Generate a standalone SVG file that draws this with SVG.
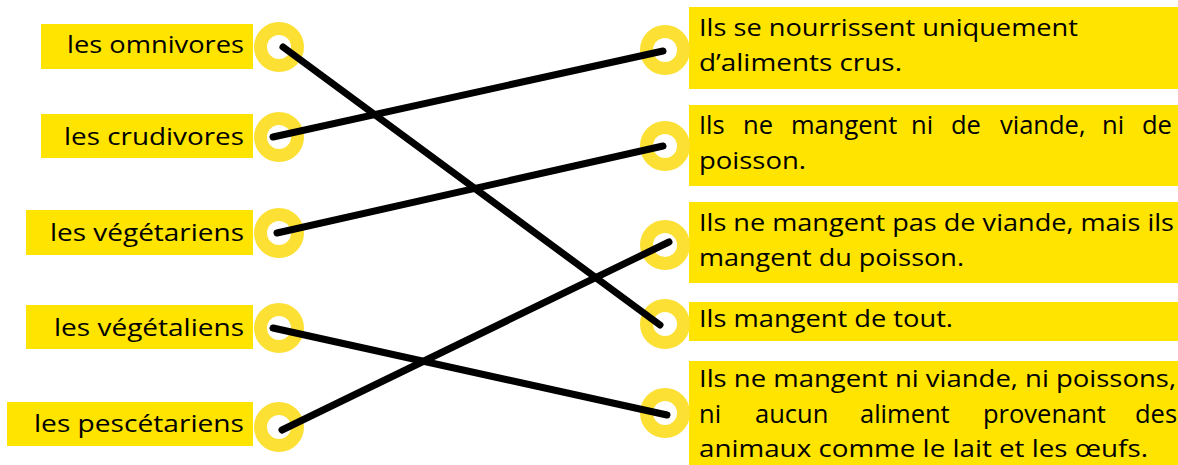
<svg xmlns="http://www.w3.org/2000/svg" width="1178" height="465" viewBox="0 0 1178 465">
<style>
.box{fill:#FFE400}
.ring{fill:none;stroke:#FCE033;stroke-width:13}
.t{font-family:"Open Sans","Noto Sans","DejaVu Sans",sans-serif;font-size:24px;fill:#000}
.w{font-size:25.5px}
.l{text-anchor:end}
.c{stroke:#000;stroke-width:7;stroke-linecap:round;fill:none}
</style>
<rect width="1178" height="465" fill="#fff"/>
<g id="left-omnivores">
<rect class="box" x="41" y="24" width="212" height="45"/>
<text class="t l" x="244" y="53" textLength="177" lengthAdjust="spacingAndGlyphs">les omnivores</text>
<circle class="ring" cx="279" cy="47" r="18.5"/>
</g>
<g id="left-crudivores">
<rect class="box" x="41" y="114" width="212" height="44"/>
<text class="t l" x="244" y="145" textLength="180" lengthAdjust="spacingAndGlyphs">les crudivores</text>
<circle class="ring" cx="279" cy="137" r="18.5"/>
</g>
<g id="left-vegetariens">
<rect class="box" x="26" y="210" width="227" height="45"/>
<text class="t l" x="244" y="241" textLength="194" lengthAdjust="spacingAndGlyphs">les végétariens</text>
<circle class="ring" cx="279" cy="233" r="18.5"/>
</g>
<g id="left-vegetaliens">
<rect class="box" x="26" y="305" width="227" height="44"/>
<text class="t l" x="244" y="336" textLength="190" lengthAdjust="spacingAndGlyphs">les végétaliens</text>
<circle class="ring" cx="279" cy="328" r="18.5"/>
</g>
<g id="left-pescetariens">
<rect class="box" x="7" y="402" width="246" height="44"/>
<text class="t l" x="244" y="432" textLength="210" lengthAdjust="spacingAndGlyphs">les pescétariens</text>
<circle class="ring" cx="279" cy="427" r="18.5"/>
</g>
<g id="right-crus">
<rect class="box" x="689" y="7" width="489" height="82"/>
<text class="t" x="699" y="36" textLength="379" lengthAdjust="spacingAndGlyphs">Ils se nourrissent uniquement</text>
<text class="t" x="699" y="71" textLength="203" lengthAdjust="spacingAndGlyphs">d’aliments crus.</text>
<circle class="ring" cx="665" cy="50" r="18.5"/>
</g>
<g id="right-ni-viande-ni-poisson">
<rect class="box" x="689" y="105" width="489" height="81"/>
<text class="t w" y="134"><tspan x="699">Ils</tspan><tspan x="743">ne</tspan><tspan x="791">mangent</tspan><tspan x="911">ni</tspan><tspan x="951">de</tspan><tspan x="1000">viande,</tspan><tspan x="1102">ni</tspan><tspan x="1142">de</tspan></text>
<text class="t" x="699" y="169" textLength="107" lengthAdjust="spacingAndGlyphs">poisson.</text>
<circle class="ring" cx="665" cy="146" r="18.5"/>
</g>
<g id="right-poisson">
<rect class="box" x="689" y="202" width="489" height="81"/>
<text class="t" x="699" y="231" textLength="475" lengthAdjust="spacingAndGlyphs">Ils ne mangent pas de viande, mais ils</text>
<text class="t" x="699" y="266" textLength="265" lengthAdjust="spacingAndGlyphs">mangent du poisson.</text>
<circle class="ring" cx="665" cy="245" r="18.5"/>
</g>
<g id="right-tout">
<rect class="box" x="689" y="302" width="489" height="39"/>
<text class="t" x="699" y="327" textLength="254" lengthAdjust="spacingAndGlyphs">Ils mangent de tout.</text>
<circle class="ring" cx="665" cy="324" r="18.5"/>
</g>
<g id="right-aucun-aliment">
<rect class="box" x="689" y="361" width="489" height="104"/>
<text class="t" x="699" y="387" textLength="477" lengthAdjust="spacingAndGlyphs">Ils ne mangent ni viande, ni poissons,</text>
<text class="t w" y="423"><tspan x="699">ni</tspan><tspan x="755">aucun</tspan><tspan x="860">aliment</tspan><tspan x="983">provenant</tspan><tspan x="1135">des</tspan></text>
<text class="t" x="699" y="457" textLength="449" lengthAdjust="spacingAndGlyphs">animaux comme le lait et les œufs.</text>
<circle class="ring" cx="665" cy="413" r="18.5"/>
</g>
<g id="connectors">
<line class="c" x1="283" y1="47" x2="660" y2="325"/>
<line class="c" x1="273" y1="137" x2="663" y2="51"/>
<line class="c" x1="277" y1="233" x2="663" y2="146"/>
<line class="c" x1="273" y1="328" x2="667" y2="415"/>
<line class="c" x1="282" y1="430" x2="669" y2="242"/>
</g>
</svg>
